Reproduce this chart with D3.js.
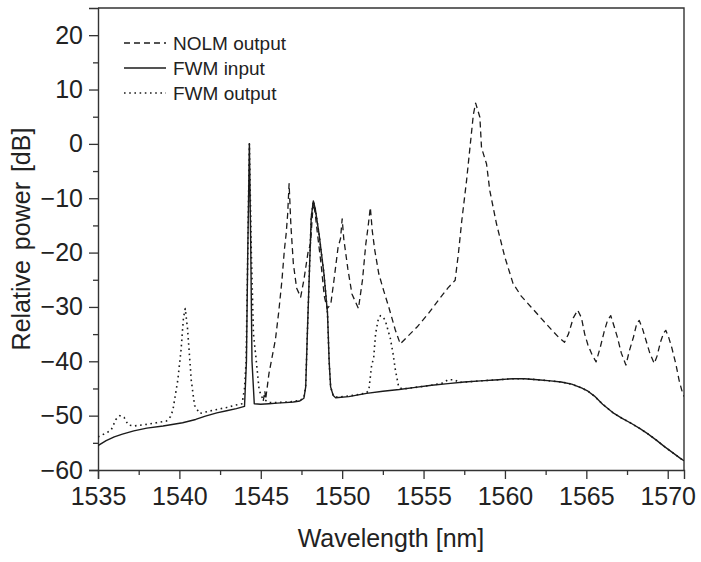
<!DOCTYPE html>
<html>
<head>
<meta charset="utf-8">
<script src="https://cdn.jsdelivr.net/npm/d3@7"></script>
<style>
  body { margin: 0; background: #fff; }
  svg text { font-family: "Liberation Sans", Arial, sans-serif; fill: #222; }
</style>
</head>
<body>
<div id="chart"></div>
<script>
// spectra (wavelength nm, relative power dB)
const inputWl = [1535, 1535.5, 1536, 1536.5, 1537.2, 1538, 1539, 1540.2, 1541, 1541.6, 1542.3, 1542.9, 1543.5, 1544.0,
  1544.12, 1544.2, 1544.3, 1544.38, 1544.46, 1544.6, 1545.0, 1545.5, 1546.0, 1546.5, 1547.0, 1547.4, 1547.65,
  1547.76, 1547.86, 1547.97, 1548.03, 1548.1, 1548.23, 1548.35, 1548.58, 1548.88, 1549.1, 1549.2, 1549.29, 1549.45,
  1549.6, 1550.4, 1551.5, 1552.5, 1553.5, 1554.5, 1555.5, 1556.5, 1557.5, 1558.5, 1559.6, 1560.5, 1561.2, 1562,
  1562.8, 1563.45, 1564.1, 1564.7, 1565.1, 1565.5, 1566.0, 1566.7, 1567.2, 1567.75, 1568.3, 1568.76, 1569.3,
  1569.8, 1570.3, 1570.8, 1571];
const inputDb = [-55.5, -54.6, -53.9, -53.4, -52.8, -52.3, -51.9, -51.3, -50.7, -50.1, -49.5, -49.1, -48.7, -48.3,
  -40, -20, 0, -18, -40, -47.8, -47.9, -47.8, -47.7, -47.6, -47.5, -47.3, -46.8,
  -44.7, -35, -25, -19.6, -13.5, -10.5, -12, -16.6, -23.9, -31.2, -40, -44.7, -46.3,
  -46.7, -46.5, -45.9, -45.5, -45.2, -44.8, -44.4, -44.1, -43.8, -43.6, -43.4, -43.2, -43.2, -43.4,
  -43.6, -43.8, -44.2, -44.9, -45.5, -46.4, -47.9, -49.6, -50.5, -51.4, -52.4, -53.3, -54.5,
  -55.7, -56.8, -57.9, -58.3];

const outputWl = [1535, 1535.5, 1535.8, 1536.1, 1536.35, 1536.6, 1536.85, 1537.2, 1538, 1538.6, 1539.2, 1539.45,
  1539.6, 1539.9, 1540.1, 1540.25, 1540.36, 1540.5, 1540.73, 1540.93, 1541.24, 1541.8, 1542.4, 1542.9, 1543.4,
  1543.85, 1544.0, 1544.1, 1544.2, 1544.3, 1544.42, 1544.55, 1544.7, 1544.9, 1545.1, 1545.5, 1546, 1546.5, 1547,
  1547.4, 1547.65, 1547.76, 1547.86, 1547.97, 1548.03, 1548.1, 1548.23, 1548.35, 1548.58, 1548.88, 1549.1, 1549.2,
  1549.29, 1549.45, 1549.6, 1550.4, 1551.2, 1551.5, 1551.64, 1551.8, 1551.94, 1552.05, 1552.2, 1552.35, 1552.5,
  1552.65, 1552.96, 1553.12, 1553.27, 1553.47, 1553.7, 1554.5, 1555.5, 1556.2, 1556.5, 1556.9, 1557.2, 1558.5,
  1559.6, 1560.5, 1561.2, 1562, 1562.8, 1563.45, 1564.1, 1564.7, 1565.1, 1565.5, 1566.0, 1566.7, 1567.2, 1567.75,
  1568.3, 1568.76, 1569.3, 1569.8, 1570.3, 1570.8, 1571];
const outputDb = [-53.9, -53.2, -52.7, -50.7, -50.0, -50.3, -51.7, -51.9, -51.6, -51.3, -51.0, -50.2,
  -49, -43.5, -38, -32, -30.3, -34, -43.5, -48.1, -49.6, -49.2, -48.8, -48.5, -48.1,
  -47.8, -45, -40, -20, 0, -20, -35, -39.2, -45.3, -46.8, -47.6, -47.6, -47.5, -47.4,
  -47.2, -46.7, -44.5, -35, -25, -19.6, -13.5, -10.5, -12, -16.6, -23.9, -31.2, -40,
  -44.7, -46.3, -46.6, -46.4, -46.0, -45.8, -45.3, -41, -39.2, -35, -32.5, -31.6, -31.8,
  -32.5, -35.8, -38.5, -41.6, -44.7, -45.1, -44.8, -44.4, -44.0, -43.4, -43.4, -43.9, -43.6,
  -43.4, -43.2, -43.2, -43.4, -43.6, -43.8, -44.2, -44.9, -45.5, -46.4, -47.9, -49.6, -50.5, -51.4,
  -52.4, -53.3, -54.5, -55.7, -56.8, -57.9, -58.3];

const nolmWl = [1545.15, 1545.25, 1545.3, 1545.5, 1545.9, 1546.1, 1546.3, 1546.45, 1546.56, 1546.65, 1546.74,
  1546.85, 1547.0, 1547.2, 1547.45, 1547.65, 1547.9, 1548.06, 1548.15, 1548.23, 1548.35, 1548.5, 1548.7, 1548.9,
  1549.08, 1549.3, 1549.5, 1549.75, 1549.9, 1550.0, 1550.1, 1550.35, 1550.6, 1551.0, 1551.25, 1551.45, 1551.59,
  1551.73, 1551.85, 1552.0, 1552.25, 1552.55, 1552.86, 1553.27, 1553.57, 1554.0, 1554.6, 1555.3, 1555.9, 1556.5,
  1556.94, 1557.14, 1557.35, 1557.64, 1557.85, 1558.06, 1558.2, 1558.3, 1558.46, 1558.56, 1558.87, 1559.07,
  1559.48, 1559.99, 1560.5, 1561.0, 1561.6, 1562.2, 1562.8, 1563.3, 1563.66, 1563.9, 1564.2, 1564.47, 1564.7,
  1564.9, 1565.1, 1565.35, 1565.6, 1565.85, 1566.1, 1566.3, 1566.5, 1566.7, 1566.9, 1567.15, 1567.43, 1567.65,
  1567.9, 1568.1, 1568.25, 1568.45, 1568.6, 1568.9, 1569.17, 1569.35, 1569.55, 1569.75, 1569.88, 1570.05,
  1570.25, 1570.5, 1570.7, 1570.86, 1571];
const nolmDb = [-47.3, -45.5, -47, -42.3, -36, -31, -25.1, -19.5, -16.5, -13, -7.3,
  -15, -22, -26.5, -28.2, -25, -20, -18.3, -14, -10.8, -13, -17, -22, -28,
  -30.3, -29.5, -25, -19, -17.4, -13.8, -17.5, -23, -27.6, -30.3, -25, -18.5, -15.3,
  -11.7, -16, -19.5, -23.9, -27, -30, -34.3, -36.8, -35.5, -33.7, -31.2, -28.8, -26.5,
  -25.1, -20.2, -14.1, -6.8, -0.7, 5.4, 7.5, 6.5, 4.9, -0.7, -3.7, -8.6,
  -14.7, -20.8, -25.7, -28, -30, -32, -34, -35.6, -36.5, -35, -32, -30.6, -32,
  -35, -37, -38.8, -40.1, -37.5, -34.5, -32.5, -31.6, -33.5, -35.5, -38.5, -40.7, -38,
  -35.5, -33, -32.5, -34, -35.5, -38.5, -40.4, -39, -36.5, -34.8, -34.3, -35.5,
  -37.5, -40.5, -43.5, -45.3, -46.5];

const xMajor = [1535, 1540, 1545, 1550, 1555, 1560, 1565, 1570];
const xMinor = [1537.5, 1542.5, 1547.5, 1552.5, 1557.5, 1562.5, 1567.5];
const yMajor = [-60, -50, -40, -30, -20, -10, 0, 10, 20];
const yMinor = [-55, -45, -35, -25, -15, -5, 5, 15];

const legendNames = ["NOLM output", "FWM input", "FWM output"];

const width = 701;
const height = 562;
const margin = { top: 8, right: 17, bottom: 92, left: 98 };
const ink = "#1b1b1b";

const svg = d3.select("#chart")
  .append("svg")
  .attr("width", width)
  .attr("height", height);

const x = d3.scaleLinear()
  .domain([1535, 1571])
  .range([margin.left, width - margin.right]);

const y = d3.scaleLinear()
  .domain([-60, 25])
  .range([height - margin.bottom, margin.top]);

svg.append("clipPath")
  .attr("id", "plotClip")
  .append("rect")
  .attr("x", margin.left)
  .attr("y", margin.top)
  .attr("width", x.range()[1] - margin.left)
  .attr("height", y.range()[0] - margin.top);

// frame (top + right)
svg.append("path")
  .attr("d", `M${margin.left},${margin.top}H${x.range()[1]}V${y.range()[0]}`)
  .attr("fill", "none")
  .attr("stroke", "#333")
  .attr("stroke-width", 1.4);

// axes
function styleAxis(sel) {
  sel.select(".domain").attr("stroke", "#333").attr("stroke-width", 1.4);
  sel.selectAll(".tick line").attr("stroke", "#333").attr("stroke-width", 1.3);
  sel.selectAll(".tick text").attr("fill", "#222").style("font-size", "25px");
}

const xAxis = svg.append("g")
  .attr("transform", `translate(0,${y.range()[0]})`)
  .call(d3.axisBottom(x).tickValues(xMajor).tickSize(9).tickPadding(8).tickFormat(d3.format("d")));
styleAxis(xAxis);

svg.append("g")
  .attr("transform", `translate(0,${y.range()[0]})`)
  .call(d3.axisBottom(x).tickValues(xMinor).tickSize(5).tickFormat(""))
  .call(g => g.select(".domain").remove())
  .call(styleAxis);

const yAxis = svg.append("g")
  .attr("transform", `translate(${margin.left},0)`)
  .call(d3.axisLeft(y).tickValues(yMajor).tickSize(9).tickPadding(6).tickFormat(d3.format("d")));
styleAxis(yAxis);

svg.append("g")
  .attr("transform", `translate(${margin.left},0)`)
  .call(d3.axisLeft(y).tickValues(yMinor).tickSize(5).tickFormat(""))
  .call(g => g.select(".domain").remove())
  .call(styleAxis);

// axis titles
svg.append("text")
  .attr("x", (margin.left + x.range()[1]) / 2)
  .attr("y", 547)
  .attr("text-anchor", "middle")
  .style("font-size", "25px")
  .text("Wavelength [nm]");

svg.append("text")
  .attr("transform", `translate(30,${(margin.top + y.range()[0]) / 2}) rotate(-90)`)
  .attr("text-anchor", "middle")
  .style("font-size", "25px")
  .style("word-spacing", "3px")
  .text("Relative power [dB]");

// series
const line = d3.line()
  .x(d => x(d[0]))
  .y(d => y(d[1]));

const series = [
  { name: legendNames[0], pts: d3.zip(nolmWl, nolmDb), dash: "6,4", w: 1.3 },
  { name: legendNames[1], pts: d3.zip(inputWl, inputDb), dash: null, w: 1.4 },
  { name: legendNames[2], pts: d3.zip(outputWl, outputDb), dash: "1.6,3.6", w: 1.6 }
];

const plot = svg.append("g").attr("clip-path", "url(#plotClip)");

plot.selectAll("path.series")
  .data(series)
  .enter()
  .append("path")
  .attr("class", "series")
  .attr("d", d => line(d.pts))
  .attr("fill", "none")
  .attr("stroke", ink)
  .attr("stroke-width", d => d.w)
  .attr("stroke-linejoin", "round")
  .attr("stroke-dasharray", d => d.dash);

// legend
const legend = svg.append("g").attr("transform", "translate(124,43)");
const rows = legend.selectAll("g")
  .data(series)
  .enter()
  .append("g")
  .attr("transform", (d, i) => `translate(0,${i * 25})`);

rows.append("line")
  .attr("x1", 0)
  .attr("x2", 42)
  .attr("stroke", ink)
  .attr("stroke-width", d => d.w)
  .attr("stroke-dasharray", d => d.dash);

rows.append("text")
  .attr("x", 49)
  .attr("dy", "0.35em")
  .style("font-size", "19px")
  .text(d => d.name);
</script>
</body>
</html>
